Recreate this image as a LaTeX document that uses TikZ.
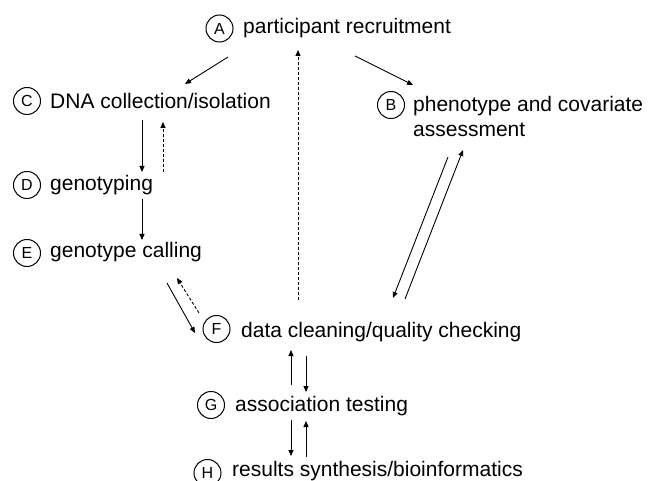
\documentclass[tikz,border=0pt]{standalone}
\usepackage{fontspec}
\setmainfont{Liberation Sans}
\usetikzlibrary{arrows.meta}
\tikzset{
  stage/.style={anchor=base west, inner sep=0pt, font=\fontsize{21}{25}\selectfont},
  badge/.style={circle, draw, line width=1pt, minimum size=27pt, inner sep=0pt,
                font=\fontsize{16}{16}\selectfont},
  flow/.style={line width=0.9pt, -{Triangle[length=6pt,width=5pt]}},
  back/.style={flow, dash pattern=on 3pt off 2pt}
}
\begin{document}
\begin{tikzpicture}[x=1pt,y=-1pt]
\useasboundingbox (0,0) rectangle (648,481);

% stage labels
\node[badge] (cA) at (219.5,28.5) {A};
\node[stage] (tA) at (243,34) {participant recruitment};
\node[badge] (cB) at (391,105) {B};
\node[stage] (tB) at (413,112) {\begin{tabular}[t]{@{}l@{}}phenotype and covariate\\assessment\end{tabular}};
\node[badge] (cC) at (27,101) {C};
\node[stage] (tC) at (50,109) {DNA collection/isolation};
\node[badge] (cD) at (27,185) {D};
\node[stage] (tD) at (50,191) {genotyping};
\node[badge] (cE) at (27,253) {E};
\node[stage] (tE) at (50,258) {genotype calling};
\node[badge] (cF) at (216.5,329) {F};
\node[stage] (tF) at (241,337) {data cleaning/quality checking};
\node[badge] (cG) at (211,405) {G};
\node[stage] (tG) at (235,411) {association testing};
\node[badge] (cH) at (207.5,473) {H};
\node[stage] (tH) at (232,476) {results synthesis/bioinformatics};

% connector end points
\coordinate (ac1) at (228,57);  \coordinate (ac2) at (185,84);
\coordinate (ab1) at (355,56);  \coordinate (ab2) at (413,85);
\coordinate (fa1) at (298,300); \coordinate (fa2) at (298,50);
\coordinate (cd1) at (142,120); \coordinate (cd2) at (142,172);
\coordinate (dc1) at (163,172); \coordinate (dc2) at (163,122);
\coordinate (de1) at (142,199); \coordinate (de2) at (142,240);
\coordinate (ef1) at (167,283); \coordinate (ef2) at (195,333);
\coordinate (fe1) at (199,313); \coordinate (fe2) at (177,278);
\coordinate (bf1) at (448,157); \coordinate (bf2) at (393,298);
\coordinate (fb1) at (405,299); \coordinate (fb2) at (463,150);
\coordinate (gf1) at (291,385); \coordinate (gf2) at (291,350);
\coordinate (fg1) at (306,356); \coordinate (fg2) at (306,392);
\coordinate (gh1) at (291,420); \coordinate (gh2) at (291,456);
\coordinate (hg1) at (306,457); \coordinate (hg2) at (306,421);

% forward steps
\draw[flow] (ac1) -- (ac2);
\draw[flow] (ab1) -- (ab2);
\draw[flow] (cd1) -- (cd2);
\draw[flow] (de1) -- (de2);
\draw[flow] (ef1) -- (ef2);
\draw[flow] (bf1) -- (bf2);
\draw[flow] (fb1) -- (fb2);
\draw[flow] (gf1) -- (gf2);
\draw[flow] (fg1) -- (fg2);
\draw[flow] (gh1) -- (gh2);
\draw[flow] (hg1) -- (hg2);

% feedback loops
\draw[back] (fa1) -- (fa2);
\draw[back] (dc1) -- (dc2);
\draw[back] (fe1) -- (fe2);
\end{tikzpicture}
\end{document}
